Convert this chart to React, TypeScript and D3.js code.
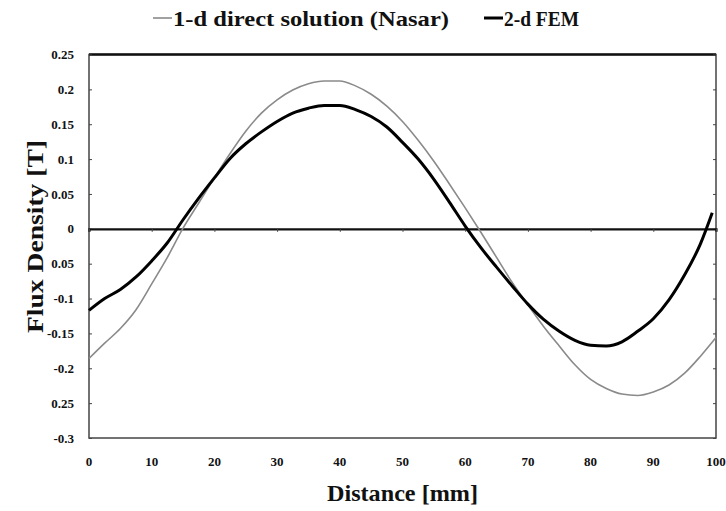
import React, { useEffect, useRef } from "react";
import * as d3 from "d3";

// distance [mm]
const distance = [
  0, 2.5, 5, 7.5, 10, 12.5, 15, 17.5, 20, 22.5, 25, 27.5, 30, 32.5, 35, 37.5, 40,
  42.5, 45, 47.5, 50, 52.5, 55, 57.5, 60, 62.5, 65, 67.5, 70, 72.5, 75, 77.5, 80,
  82.5, 85, 87.5, 90, 92.5, 95, 97.5, 100,
];

// 1-d direct solution (Nasar)
const nasar = [
  -0.186, -0.164, -0.143, -0.116, -0.079, -0.041, 0.001, 0.037, 0.073, 0.108, 0.14,
  0.166, 0.185, 0.199, 0.208, 0.212, 0.212, 0.205, 0.193, 0.176, 0.154, 0.127, 0.097,
  0.064, 0.03, -0.005, -0.041, -0.077, -0.109, -0.14, -0.168, -0.195, -0.216, -0.229,
  -0.237, -0.239, -0.234, -0.224, -0.207, -0.183, -0.156,
];

// 2-d FEM (last point at 99.4 mm)
const femDistance = [
  0, 2.5, 5, 7.5, 10, 12.5, 15, 17.5, 20, 22.5, 25, 27.5, 30, 32.5, 35, 37.5, 40,
  42.5, 45, 47.5, 50, 52.5, 55, 57.5, 60, 62.5, 65, 67.5, 70, 72.5, 75, 77.5, 80,
  82.5, 85, 87.5, 90, 92.5, 95, 97.5, 99.4,
];
const fem = [
  -0.117, -0.1, -0.087, -0.069, -0.046, -0.02, 0.013, 0.044, 0.073, 0.101, 0.122,
  0.139, 0.154, 0.166, 0.173, 0.177, 0.177, 0.171, 0.161, 0.146, 0.124, 0.1, 0.071,
  0.038, 0.004, -0.027, -0.055, -0.082, -0.108, -0.13, -0.147, -0.16, -0.167, -0.168,
  -0.162, -0.147, -0.129, -0.102, -0.066, -0.022, 0.023,
];

const xTicks = [0, 10, 20, 30, 40, 50, 60, 70, 80, 90, 100];
const yTicks = [0.25, 0.2, 0.15, 0.1, 0.05, 0, -0.05, -0.1, -0.15, -0.2, -0.25, -0.3];
// labels as printed on the original figure
const yTickLabels = ["0.25", "0.2", "0.15", "0.1", "0.05", "0", "0.05", "-0.1", "-0.15", "-0.2", "0.25", "-0.3"];

const FONT = "Liberation Serif";

export default function App() {
  const ref = useRef<SVGSVGElement>(null);

  useEffect(() => {
    const width = 726,
      height = 511;
    const margin = { top: 54.5, right: 10, bottom: 73, left: 89 };

    const svg = d3.select(ref.current);
    svg.selectAll("*").remove();

    const x = d3.scaleLinear().domain([0, 100]).range([margin.left, width - margin.right]);
    const y = d3.scaleLinear().domain([-0.3, 0.25]).range([height - margin.bottom, margin.top]);

    // plot frame
    svg.append("rect")
      .attr("x", x(0))
      .attr("y", y(0.25))
      .attr("width", x(100) - x(0))
      .attr("height", y(-0.3) - y(0.25))
      .attr("fill", "none")
      .attr("stroke", "#444")
      .attr("stroke-width", 1.5);
    svg.append("line")
      .attr("x1", x(0)).attr("x2", x(100))
      .attr("y1", y(0.25)).attr("y2", y(0.25))
      .attr("stroke", "#111").attr("stroke-width", 2.5);

    // y axis (left) with inward ticks + labels
    const yAxis = d3.axisLeft(y).tickValues(yTicks).tickSize(-3).tickPadding(15)
      .tickFormat((d, i) => yTickLabels[i]);
    const gy = svg.append("g").attr("transform", `translate(${x(0)},0)`).call(yAxis);
    gy.select(".domain").remove();
    gy.selectAll("line").attr("stroke", "#444");
    gy.selectAll("text")
      .style("font-family", FONT).style("font-weight", "bold").style("font-size", "13px")
      .attr("fill", "#111");

    // right border ticks
    const gr = svg.append("g").attr("transform", `translate(${x(100)},0)`)
      .call(d3.axisRight(y).tickValues(yTicks).tickSize(-3).tickFormat(() => ""));
    gr.select(".domain").remove();
    gr.selectAll("line").attr("stroke", "#444");

    // x axis crossing at zero
    const gx = svg.append("g").attr("transform", `translate(0,${y(0)})`)
      .call(d3.axisBottom(x).tickValues(xTicks).tickSize(3).tickFormat(() => ""));
    gx.select(".domain").attr("stroke", "#111").attr("stroke-width", 2.2);
    gx.selectAll("line").attr("stroke", "#444");

    // x tick labels below the frame
    svg.append("g")
      .selectAll("text")
      .data(xTicks)
      .join("text")
      .attr("x", (d) => x(d))
      .attr("y", y(-0.3) + 28)
      .attr("text-anchor", "middle")
      .style("font-family", FONT).style("font-weight", "bold").style("font-size", "13px")
      .attr("fill", "#111")
      .text((d) => d);

    // series
    const lineNasar = d3.line<number>()
      .x((d, i) => x(distance[i]))
      .y((d) => y(d))
      .curve(d3.curveMonotoneX);
    const lineFem = d3.line<number>()
      .x((d, i) => x(femDistance[i]))
      .y((d) => y(d))
      .curve(d3.curveMonotoneX);

    svg.append("path")
      .datum(nasar)
      .attr("d", lineNasar)
      .attr("fill", "none")
      .attr("stroke", "#8a8a8a")
      .attr("stroke-width", 1.6);

    svg.append("path")
      .datum(fem)
      .attr("d", lineFem)
      .attr("fill", "none")
      .attr("stroke", "#000")
      .attr("stroke-width", 3);

    // axis titles
    svg.append("text")
      .attr("x", 327)
      .attr("y", 501)
      .attr("textLength", 151)
      .attr("lengthAdjust", "spacingAndGlyphs")
      .style("font-family", FONT).style("font-weight", "bold").style("font-size", "23px")
      .attr("fill", "#111")
      .text("Distance [mm]");

    svg.append("text")
      .attr("transform", `translate(43,333) rotate(-90)`)
      .attr("textLength", 193)
      .attr("lengthAdjust", "spacingAndGlyphs")
      .style("font-family", FONT).style("font-weight", "bold").style("font-size", "23px")
      .attr("fill", "#111")
      .text("Flux Density [T]");

    // legend
    const legend = [
      { label: "1-d direct solution (Nasar)", x0: 153, len: 276, color: "#8a8a8a", w: 1.6 },
      { label: "2-d FEM", x0: 484, len: 75, color: "#000", w: 3 },
    ];
    const lg = svg.append("g");
    legend.forEach((l) => {
      lg.append("line")
        .attr("x1", l.x0).attr("x2", l.x0 + 19)
        .attr("y1", 18).attr("y2", 18)
        .attr("stroke", l.color).attr("stroke-width", l.w);
      lg.append("text")
        .attr("x", l.x0 + 20)
        .attr("y", 26)
        .attr("textLength", l.len)
        .attr("lengthAdjust", "spacingAndGlyphs")
        .style("font-family", FONT).style("font-weight", "bold").style("font-size", "21px")
        .attr("fill", "#111")
        .text(l.label);
    });
  }, []);

  return (
    <svg
      ref={ref}
      width={726}
      height={511}
      style={{ position: "absolute", left: 0, top: 0, background: "#fff" }}
    />
  );
}
